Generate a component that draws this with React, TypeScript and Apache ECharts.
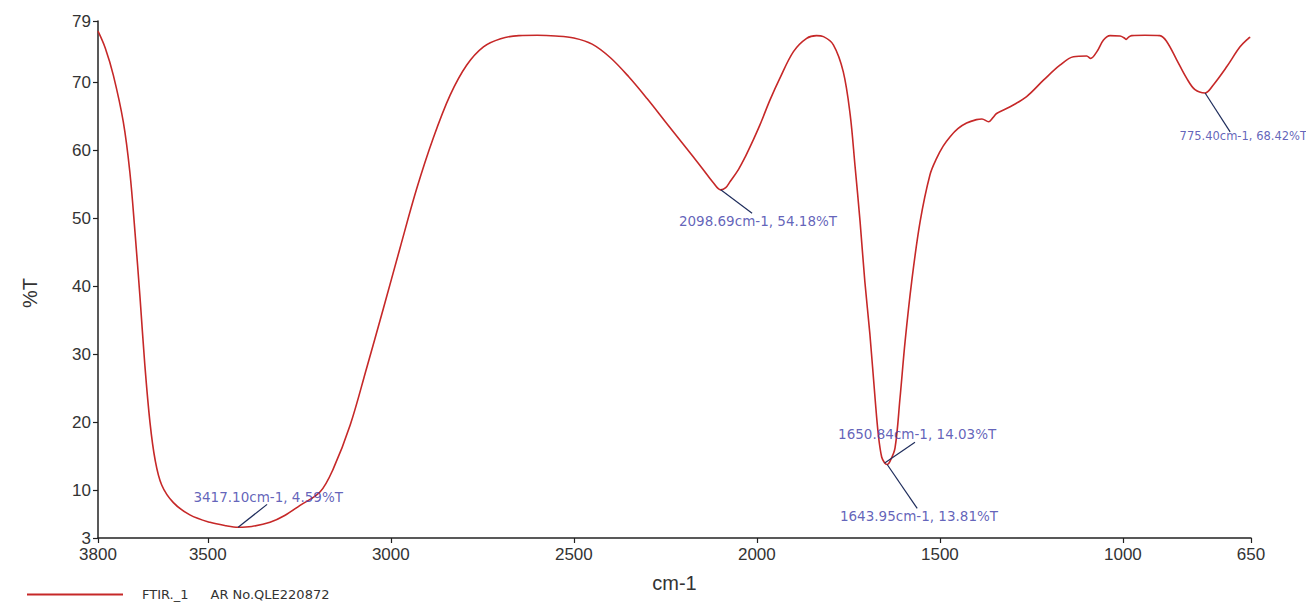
import React, { useEffect, useRef } from "react";
import * as echarts from "echarts";

// Spectrum (wavenumber cm-1, %T)
const wavenumbers = [
  3800, 3780, 3758, 3731, 3713, 3699, 3685, 3672, 3658, 3644, 3626, 3594, 3549, 3494, 3450, 3417.1,
  3380, 3330, 3290, 3248, 3193, 3157, 3111, 3066, 3020, 2975, 2929, 2884, 2838, 2793, 2747, 2700,
  2650, 2600, 2550, 2500, 2450, 2400, 2350, 2300, 2250, 2200, 2150, 2120, 2098.69,
  2085, 2073, 2050, 2032, 2010, 1991, 1964, 1937, 1900, 1864, 1837, 1818, 1791, 1764, 1745, 1732,
  1718, 1705, 1691, 1677, 1668, 1659, 1650.84, 1643.95, 1636, 1622.6, 1609, 1595, 1577, 1554, 1527,
  1509, 1491, 1472, 1450, 1427, 1400, 1385, 1367, 1355, 1345, 1308, 1263, 1217, 1172, 1135, 1099,
  1088, 1071, 1053, 1035, 1008, 996, 991, 985, 976, 940, 899, 880, 853, 826, 803, 775.4, 753, 716,
  680, 657, 652,
];
const transmittance = [
  77.5, 75.0, 71.0, 64.2, 56.8, 48.0, 38.2, 28.4, 20.0, 14.5, 10.8, 8.2, 6.4, 5.3, 4.8, 4.59,
  4.7, 5.3, 6.3, 7.8, 9.8, 13.2, 19.6, 28.0, 36.8, 45.6, 54.4, 61.8, 68.1, 72.5, 75.2, 76.4,
  76.85, 76.9, 76.8, 76.5, 75.6, 73.6, 70.8, 67.6, 64.2, 60.8, 57.4, 55.3, 54.18,
  54.5, 55.4, 57.2, 59.0, 61.5, 63.8, 67.4, 70.6, 74.5, 76.45, 76.85, 76.7, 75.5, 71.55, 65.2, 57.8,
  49.5, 40.7, 32.85, 23.5, 18.1, 14.9, 14.03, 13.81, 14.3, 16.2, 23.5, 31.9, 40.7, 49.5, 56.4,
  58.8, 60.6, 62.0, 63.2, 64.0, 64.5, 64.6, 64.2, 64.8, 65.4, 66.4, 67.9, 70.3, 72.5, 73.75, 73.85,
  73.5, 74.5, 76.2, 76.85, 76.8, 76.5, 76.3, 76.6, 76.85, 76.9, 76.85, 75.96, 73.3, 70.6, 68.9, 68.42, 69.6, 72.3,
  75.2, 76.45, 76.6,
];

// Peak annotations
const peakTexts = [
  "3417.10cm-1, 4.59%T",
  "2098.69cm-1, 54.18%T",
  "1650.84cm-1, 14.03%T",
  "1643.95cm-1, 13.81%T",
  "775.40cm-1, 68.42%T",
];
const peakWn = [3417.1, 2098.69, 1650.84, 1643.95, 775.4];
const peakT = [4.59, 54.18, 14.03, 13.81, 68.42];
const leaderEndWn = [3338, 2013, 1568, 1562, 707];
const leaderEndT = [7.94, 50.75, 17.06, 7.35, 62.7];
const labelWn = [3335, 1997, 1562, 1557, 671];
const labelT = [9.1, 49.6, 18.24, 6.3, 62.1];

const xTicks = [3800, 3500, 3000, 2500, 2000, 1500, 1000, 650];
const yTicks = [3, 10, 20, 30, 40, 50, 60, 70, 79];

const seriesName = "FTIR._1";
const legendNote = "AR No.QLE220872";

const labelFont = "DejaVu Sans, sans-serif";
const labelSizes = [13.5, 13.5, 13.5, 13.5, 11.5];

export default function App() {
  const ref = useRef<HTMLDivElement>(null);
  useEffect(() => {
    if (!ref.current) return;
    const chart = echarts.init(ref.current, null, { renderer: "svg" });
    const tickFont = { fontFamily: "Liberation Sans, Arial, sans-serif", fontSize: 17, color: "#333" };
    chart.setOption({
      animation: false,
      backgroundColor: "#fff",
      grid: { left: 98, right: 55, top: 21, bottom: 65 },
      legend: {
        left: 22,
        top: 583,
        icon: "rect",
        itemWidth: 96,
        itemHeight: 2,
        data: [seriesName],
        formatter: (n: string) => `{a|${n}}{b|${legendNote}}`,
        textStyle: {
          fontFamily: labelFont,
          fontSize: 13,
          color: "#333",
          rich: {
            a: { fontFamily: labelFont, fontSize: 13, color: "#333", padding: [0, 0, 0, 14] },
            b: { fontFamily: labelFont, fontSize: 13, color: "#333", padding: [0, 0, 0, 22] },
          },
        },
      },
      xAxis: {
        type: "value",
        inverse: true,
        min: 650,
        max: 3800,
        name: "cm-1",
        nameLocation: "middle",
        nameGap: 35,
        nameTextStyle: { fontFamily: "Liberation Sans, Arial, sans-serif", fontSize: 20, color: "#333" },
        axisLine: { show: true, lineStyle: { color: "#222", width: 1.5 } },
        axisTick: { show: true, length: 5, customValues: xTicks, lineStyle: { color: "#222", width: 1.2 } },
        axisLabel: { ...tickFont, margin: 8, customValues: xTicks, formatter: (v: number) => String(v) },
        splitLine: { show: false },
      },
      yAxis: {
        type: "value",
        min: 3,
        max: 79,
        axisLine: { show: true, lineStyle: { color: "#222", width: 1.5 } },
        axisTick: { show: true, length: 5, customValues: yTicks, lineStyle: { color: "#222", width: 1.2 } },
        axisLabel: { ...tickFont, margin: 7, customValues: yTicks, formatter: (v: number) => String(v) },
        splitLine: { show: false },
      },
      graphic: [
        {
          type: "text",
          x: 30,
          y: 293,
          rotation: Math.PI / 2,
          style: {
            text: "%T",
            fontFamily: "Liberation Sans, Arial, sans-serif",
            fontSize: 20,
            fill: "#333",
            align: "center",
            verticalAlign: "middle",
          },
        },
      ],
      series: [
        {
          name: seriesName,
          type: "line",
          symbol: "none",
          smooth: 0.35,
          data: wavenumbers.map((w, i) => [w, transmittance[i]]),
          lineStyle: { color: "#c62828", width: 1.6 },
          itemStyle: { color: "#c62828" },
          emphasis: { disabled: true },
          z: 3,
        },
        {
          name: "peaks",
          type: "scatter",
          symbolSize: 1,
          itemStyle: { color: "rgba(0,0,0,0)" },
          data: peakTexts.map((t, i) => ({
            name: t,
            value: [labelWn[i], labelT[i]],
            label: { fontSize: labelSizes[i] },
          })),
          label: {
            show: true,
            position: "inside",
            formatter: (p: any) => p.name,
            fontFamily: labelFont,
            fontSize: 13.5,
            color: "#3b3ba8",
          },
          emphasis: { disabled: true },
          silent: true,
          markLine: {
            silent: true,
            symbol: ["none", "none"],
            label: { show: false },
            lineStyle: { color: "#1f2d5c", width: 1.2, type: "solid" },
            emphasis: { disabled: true },
            data: peakWn.map((w, i) => [
              { coord: [w, peakT[i]] },
              { coord: [leaderEndWn[i], leaderEndT[i]] },
            ]),
          },
          z: 4,
        },
      ],
    });
    return () => chart.dispose();
  }, []);
  return <div ref={ref} style={{ position: "fixed", left: 0, top: 0, width: 1306, height: 603 }} />;
}
